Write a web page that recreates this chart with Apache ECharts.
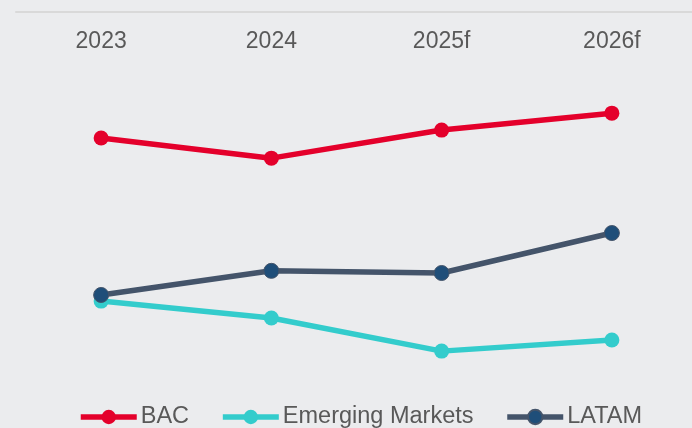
<!DOCTYPE html>
<html>
<head>
<meta charset="utf-8">
<script src="https://cdn.jsdelivr.net/npm/echarts@6/dist/echarts.min.js"></script>
<style>
  html, body { margin: 0; padding: 0; background: #ebecee; }
  #chart { width: 692px; height: 428px; }
</style>
</head>
<body>
<div id="chart"></div>
<script>
// 数据（无 y 轴刻度，按图中位置估读）
const years = ['2023', '2024', '2025f', '2026f']
const bac = [65.0, 59.4, 67.2, 71.9]
const emerging = [19.7, 15.0, 5.8, 8.9]
const latam = [21.4, 28.1, 27.5, 38.6]

const font = "'Liberation Sans', Arial, sans-serif"

const chart = echarts.init(document.getElementById('chart'))

const option = {
    backgroundColor: '#ebecee',
    animation: false,
    grid: {
        left: 16,
        width: 681,
        top: 12,
        bottom: 56,
        outerBoundsMode: 'none'
    },
    xAxis: {
        type: 'category',
        position: 'top',
        data: years,
        axisLine: { show: true, onZero: false, lineStyle: { color: '#d9d9d9', width: 2 } },
        axisTick: { show: false },
        axisLabel: {
            inside: true,
            margin: 18,
            color: '#595959',
            fontSize: 23,
            fontFamily: font
        }
    },
    yAxis: {
        type: 'value',
        min: 0,
        max: 100,
        show: false
    },
    legend: {
        top: 400,
        left: 73,
        itemWidth: 56,
        itemHeight: 18,
        itemGap: 31,
        lineStyle: { width: 5.5 },
        textStyle: { color: '#595959', fontSize: 23.5, fontFamily: font, padding: [0, 0, 0, -1] },
        data: ['BAC', 'Emerging Markets', 'LATAM']
    },
    series: [
        {
            name: 'BAC',
            type: 'line',
            data: bac,
            symbol: 'circle',
            symbolSize: 15,
            lineStyle: { color: '#e4002b', width: 5.5 },
            itemStyle: { color: '#e4002b' }
        },
        {
            name: 'Emerging Markets',
            type: 'line',
            data: emerging,
            symbol: 'circle',
            symbolSize: 15,
            lineStyle: { color: '#33cccc', width: 5.5 },
            itemStyle: { color: '#33cccc' }
        },
        {
            name: 'LATAM',
            type: 'line',
            data: latam,
            symbol: 'circle',
            symbolSize: 15,
            lineStyle: { color: '#44546a', width: 5.5 },
            itemStyle: { color: '#1f4e79', borderColor: '#44546a', borderWidth: 1 }
        }
    ]
}

chart.setOption(option)
</script>
</body>
</html>
